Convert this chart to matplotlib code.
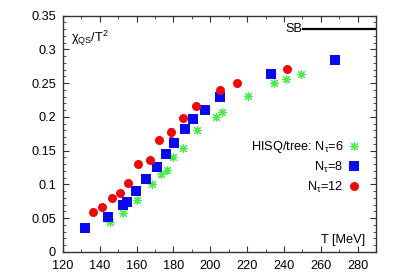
import matplotlib
matplotlib.use("Agg")
import matplotlib.pyplot as plt
from matplotlib.ticker import MultipleLocator

plt.rcParams['font.family'] = ['Liberation Sans', 'DejaVu Sans']
plt.rcParams['mathtext.fontset'] = 'custom'
plt.rcParams['mathtext.rm'] = 'Liberation Sans'
plt.rcParams['mathtext.it'] = 'Liberation Sans'
plt.rcParams['mathtext.bf'] = 'Liberation Sans:bold'

# N_tau = 6 (HISQ/tree)
T6 = [145.6, 152.8, 160.4, 168.6, 173.2, 176.4, 179.9, 185.3, 192.6, 203.3, 206.4, 220.5, 234.7, 241.0, 249.0]
chi6 = [0.0444, 0.0582, 0.0770, 0.101, 0.115, 0.121, 0.140, 0.154, 0.181, 0.200, 0.208, 0.2315, 0.251, 0.256, 0.263]
err6 = [0.002, 0.002, 0.003, 0.002, 0.003, 0.004, 0.002, 0.002, 0.003, 0.003, 0.003, 0.002, 0.002, 0.002, 0.002]

# N_tau = 8
T8 = [132.0, 144.7, 152.7, 154.5, 159.9, 165.0, 171.0, 175.9, 180.3, 186.3, 190.8, 197.1, 205.0, 233.0, 267.8]
chi8 = [0.0351, 0.0514, 0.0692, 0.0741, 0.0899, 0.108, 0.126, 0.145, 0.162, 0.182, 0.197, 0.210, 0.230, 0.264, 0.284]
err8 = [0.001, 0.001, 0.002, 0.002, 0.002, 0.002, 0.003, 0.002, 0.002, 0.002, 0.002, 0.002, 0.002, 0.002, 0.002]

# N_tau = 12
T12 = [136.5, 141.2, 146.7, 150.9, 155.2, 161.0, 167.2, 172.0, 178.6, 185.1, 192.2, 205.0, 214.7, 241.5]
chi12 = [0.0597, 0.0671, 0.0796, 0.0870, 0.1018, 0.130, 0.137, 0.166, 0.177, 0.198, 0.216, 0.240, 0.251, 0.271]
err12 = [0.001, 0.001, 0.002, 0.002, 0.002, 0.002, 0.002, 0.002, 0.006, 0.002, 0.002, 0.002, 0.002, 0.002]

SB_value = 0.33
SB_T = [250.5, 290]

fig = plt.figure(figsize=(3.99, 2.79), dpi=100)
ax = fig.add_axes([63/399, 1-252/279, (376-63)/399, (252-15.7)/279])

green = '#44ee44'
blue = '#0a0af0'
red = '#ee0a0a'

ast = (8, 2, 0)
ax.errorbar(T6, chi6, yerr=err6, fmt='none', ecolor=green, elinewidth=0.7, capsize=1.5, capthick=0.7)
ax.plot(T6, chi6, linestyle='none', marker=ast, markersize=6.5, markeredgecolor=green, markeredgewidth=0.8,
        label=r'HISQ/tree: N$_\tau$=6')
ax.errorbar(T8, chi8, yerr=err8, fmt='none', ecolor=blue, elinewidth=0.8, capsize=1.5, capthick=0.8)
ax.plot(T8, chi8, linestyle='none', marker='s', markersize=6.5, color=blue, markeredgewidth=0,
        label=r'N$_\tau$=8')
ax.errorbar(T12, chi12, yerr=err12, fmt='none', ecolor=red, elinewidth=0.8, capsize=1.5, capthick=0.8)
ax.plot(T12, chi12, linestyle='none', marker='o', markersize=6.5, color=red, markeredgewidth=0,
        label=r'N$_\tau$=12')

ax.plot(SB_T, [SB_value, SB_value], color='black', lw=1.6)
ax.text(SB_T[0] - 0.8, SB_value, 'SB', ha='right', va='center', fontsize=9.2)

ax.set_xlim(120, 290)
ax.set_ylim(0, 0.35)
ax.xaxis.set_major_locator(MultipleLocator(20))
ax.xaxis.set_minor_locator(MultipleLocator(10))
ax.yaxis.set_minor_locator(MultipleLocator(0.01))
ax.set_yticks([0, 0.05, 0.1, 0.15, 0.2, 0.25, 0.3, 0.35])
ax.set_yticklabels(['0', '0.05', '0.1', '0.15', '0.2', '0.25', '0.3', '0.35'])
ax.tick_params(which='both', direction='in', top=True, right=True, labelsize=9.2, colors='#333333', labelcolor='black')
ax.tick_params(which='major', length=4.5, width=0.8)
ax.tick_params(axis='x', which='major', pad=6)
ax.tick_params(axis='y', which='major', pad=5)
ax.tick_params(which='minor', length=2.5, width=0.6)
for s in ax.spines.values():
    s.set_color('#333333')
    s.set_linewidth(1.0)

ax.text(0.025, 0.905, r'$\chi_{\rm QS}$/T$^2$', transform=ax.transAxes, ha='left', va='center', fontsize=9.2)
ax.text(0.965, 0.05, 'T [MeV]', transform=ax.transAxes, ha='right', va='center', fontsize=9.2)

leg = ax.legend(loc='center right', bbox_to_anchor=(0.945, 0.36), frameon=False, markerfirst=False,
                fontsize=9.2, handlelength=0.8, handletextpad=0.4, labelspacing=0.35,
                borderpad=0, borderaxespad=0, alignment='right')

fig.savefig('out.png', dpi=100)
